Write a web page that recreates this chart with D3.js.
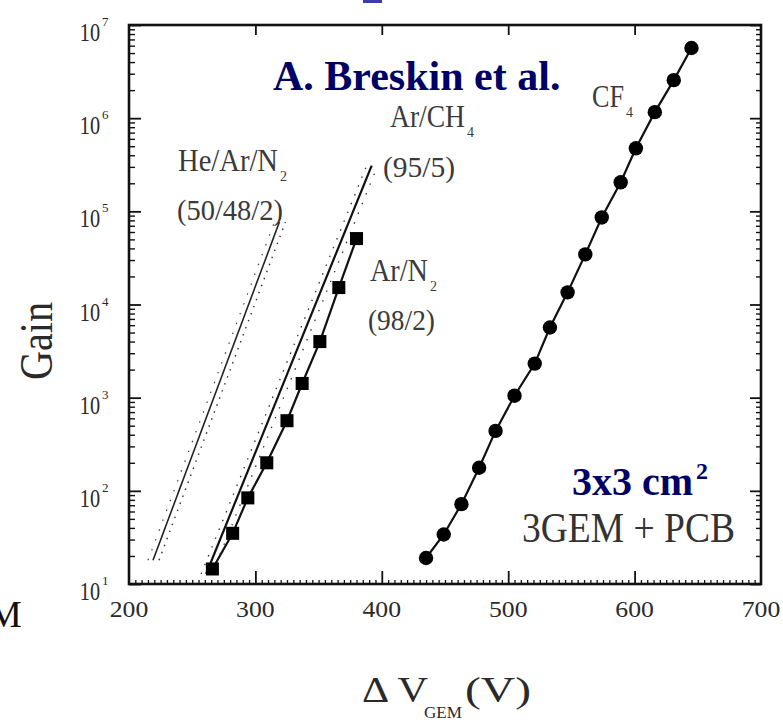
<!DOCTYPE html>
<html>
<head>
<meta charset="utf-8">
<script src="https://cdn.jsdelivr.net/npm/d3@7"></script>
<style>
  body { margin: 0; background: #fff; }
  svg { display: block; }
</style>
</head>
<body>
<svg id="chart" width="783" height="726"></svg>
<script>
// Gain vs GEM voltage for several gas mixtures (triple-GEM + PCB readout)
const cf4Voltage = [435, 449, 463, 477, 490, 505, 521, 533, 547, 561, 574, 589, 601, 616, 631, 645];
const cf4Gain = [19, 34, 72, 177, 440, 1050, 2320, 5660, 13500, 34500, 86000, 205000, 475000, 1160000, 2560000, 5660000];

const arN2Voltage = [266, 282, 294, 309, 325, 337, 351, 366, 380];
const arN2Gain = [14.5, 35, 84, 200, 566, 1420, 4000, 15200, 51000];

const arCH4Voltage = [261, 392];
const arCH4Gain = [12.8, 310000];

const heArN2Voltage = [219, 319];
const heArN2Gain = [18, 76800];

const xTickValues = [200, 300, 400, 500, 600, 700];
const yTickExponents = [1, 2, 3, 4, 5, 6, 7];

const svg = d3.select("#chart");
const x = d3.scaleLinear().domain([200, 700]).range([129, 761]);
const y = d3.scaleLog().domain([10, 1e7]).range([584, 25]);

const zip = (vs, gs) => vs.map((v, i) => ({ v, g: gs[i] }));
const line = d3.line().x(d => x(d.v)).y(d => y(d.g));

// ---- tick marks (all pointing into the frame) ----
const yMajor = yTickExponents.map(e => Math.pow(10, e));
const yMinor = d3.range(1, 7).flatMap(e => d3.range(2, 10).map(k => k * Math.pow(10, e)));
const xMinor = d3.range(205, 700, 5).filter(v => v % 100 !== 0);
const xMajorInner = xTickValues.filter(v => v > 200 && v < 700);

function ticks(axisFn, scale, values, size, tx, ty, width) {
  const g = svg.append("g")
    .attr("transform", `translate(${tx},${ty})`)
    .call(axisFn(scale).tickValues(values).tickSize(size).tickSizeOuter(0).tickFormat(""));
  g.select(".domain").remove();
  g.selectAll("line").attr("stroke", "#111").attr("stroke-width", width);
}
ticks(d3.axisLeft, y, yMajor, -12, 129, 0, 1.8);
ticks(d3.axisLeft, y, yMinor, -6, 129, 0, 1.4);
ticks(d3.axisRight, y, yMajor, -11, 761, 0, 1.8);
ticks(d3.axisRight, y, yMinor, -5, 761, 0, 1.4);
ticks(d3.axisBottom, x, xMajorInner, -13, 0, 584, 1.8);
ticks(d3.axisBottom, x, xMinor, -4, 0, 584, 1.3);
ticks(d3.axisTop, x, xMajorInner, -10, 0, 25, 1.8);

// ---- frame ----
svg.append("rect")
  .attr("x", x(200)).attr("y", y(1e7))
  .attr("width", x(700) - x(200)).attr("height", y(10) - y(1e7))
  .attr("fill", "none").attr("stroke", "#111").attr("stroke-width", 2.6);

// ---- tick labels ----
const labelFont = "'Liberation Serif', 'DejaVu Serif', serif";
const xl = svg.append("g").attr("font-family", labelFont).attr("fill", "#2a2a2a");
xTickValues.forEach(v => {
  xl.append("text")
    .attr("transform", `translate(${x(v)},617) scale(1.12,1)`)
    .attr("text-anchor", "middle").attr("font-size", 23).text(v);
});
yTickExponents.forEach(e => {
  const yy = y(Math.pow(10, e));
  xl.append("text").attr("transform", `translate(100,${yy + 16}) scale(0.88,1.05)`)
    .attr("text-anchor", "end").attr("font-size", 23).text("10");
  xl.append("text").attr("x", 102).attr("y", yy + 1)
    .attr("font-size", 13).text(e);
});

// ---- curves ----
const curves = svg.append("g").attr("fill", "none").attr("stroke", "#111");

// He/Ar/N2: thin line with a dotted trace alongside
curves.append("path").datum(zip(heArN2Voltage, heArN2Gain))
  .attr("d", line).attr("stroke-width", 1.6).attr("stroke", "#222");
curves.append("path").datum(zip(heArN2Voltage, heArN2Gain))
  .attr("d", line).attr("transform", "translate(6,0)")
  .attr("stroke-width", 1.4).attr("stroke-dasharray", "1.5,6").attr("stroke", "#333");
curves.append("path").datum(zip(heArN2Voltage, heArN2Gain))
  .attr("d", line).attr("transform", "translate(-5,0)")
  .attr("stroke-width", 1.2).attr("stroke-dasharray", "1.5,9").attr("stroke", "#444");

// Ar/CH4
curves.append("path").datum(zip(arCH4Voltage, arCH4Gain))
  .attr("d", line).attr("stroke-width", 2.2);
curves.append("path").datum(zip(arCH4Voltage, arCH4Gain))
  .attr("d", line).attr("transform", "translate(-5,0)")
  .attr("stroke-width", 1.3).attr("stroke-dasharray", "1.5,8").attr("stroke", "#333");
curves.append("path").datum(zip(arCH4Voltage, arCH4Gain))
  .attr("d", line).attr("transform", "translate(6,0)")
  .attr("stroke-width", 1.3).attr("stroke-dasharray", "1.5,9").attr("stroke", "#333");

// Ar/N2
curves.append("path").datum(zip(arN2Voltage, arN2Gain))
  .attr("d", line).attr("stroke-width", 2.2);

// CF4
curves.append("path").datum(zip(cf4Voltage, cf4Gain))
  .attr("d", line).attr("stroke-width", 2.2);

// ---- markers ----
svg.append("g").selectAll("path")
  .data(zip(arN2Voltage, arN2Gain)).join("path")
  .attr("transform", d => `translate(${x(d.v)},${y(d.g)})`)
  .attr("d", d3.symbol(d3.symbolSquare, 170))
  .attr("fill", "#000");

svg.append("g").selectAll("circle")
  .data(zip(cf4Voltage, cf4Gain)).join("circle")
  .attr("cx", d => x(d.v)).attr("cy", d => y(d.g)).attr("r", 7.2)
  .attr("fill", "#000");

// ---- mixture labels (narrowed serif, squeezed horizontally to fit) ----
const gas = svg.append("g").attr("font-family", labelFont).attr("fill", "#3a3a3a");
function formula(xp, yb, main, sub, mainW, size) {
  const t = gas.append("text").attr("font-size", size).text(main);
  const w = t.node().getComputedTextLength();
  t.attr("transform", `translate(${xp},${yb}) scale(${mainW / w},1)`);
  if (sub) {
    gas.append("text").attr("x", xp + mainW + 2).attr("y", yb + 10)
      .attr("font-size", 14).text(sub);
  }
}
formula(178, 171, "He/Ar/N", "2", 100, 32);
formula(177, 220, "(50/48/2)", null, 106, 29);
formula(390, 127, "Ar/CH", "4", 75, 32);
formula(383, 177, "(95/5)", null, 72, 29);
formula(370, 281, "Ar/N", "2", 58, 32);
formula(368, 330, "(98/2)", null, 67, 29);
formula(592, 107, "CF", "4", 32, 32);

// ---- headline annotations ----
svg.append("text").attr("x", 273).attr("y", 90)
  .attr("font-family", labelFont).attr("font-weight", "bold")
  .attr("font-size", 42).attr("fill", "#000066")
  .text("A. Breskin et al.");

const area = svg.append("text").attr("x", 572).attr("y", 495)
  .attr("font-family", labelFont).attr("font-weight", "bold")
  .attr("font-size", 40).attr("fill", "#000066");
area.append("tspan").text("3x3 cm");
area.append("tspan").attr("font-size", 24).attr("dy", -16).attr("dx", 3).text("2");

const pcb = svg.append("text").attr("font-family", labelFont).attr("font-size", 42)
  .attr("fill", "#333").text("3GEM + PCB");
pcb.attr("transform", `translate(522,542) scale(${213 / pcb.node().getComputedTextLength()},1)`);

// ---- axis titles ----
const gain = svg.append("text")
  .attr("text-anchor", "middle")
  .attr("font-family", labelFont).attr("font-size", 46).attr("fill", "#2a2a2a")
  .text("Gain");
gain.attr("transform", `translate(52,341) rotate(-90) scale(${78 / gain.node().getComputedTextLength()},1)`);

const xt = svg.append("g").attr("font-family", labelFont).attr("fill", "#2a2a2a");
function squeezed(xp, yb, str, size, width) {
  const t = xt.append("text").attr("font-size", size).text(str);
  t.attr("transform", `translate(${xp},${yb}) scale(${width / t.node().getComputedTextLength()},1)`);
}
squeezed(362, 702, "\u0394 V", 36, 66);
squeezed(424, 718, "GEM", 17, 38);
squeezed(465, 702, "(V)", 36, 66);

// ---- slide remnants at the edges ----
svg.append("text").attr("x", -12).attr("y", 627)
  .attr("font-family", labelFont).attr("font-size", 38).attr("fill", "#111").text("M");
svg.append("rect").attr("x", 363).attr("y", 0).attr("width", 19).attr("height", 3)
  .attr("fill", "#3c3ca8");
</script>
</body>
</html>
